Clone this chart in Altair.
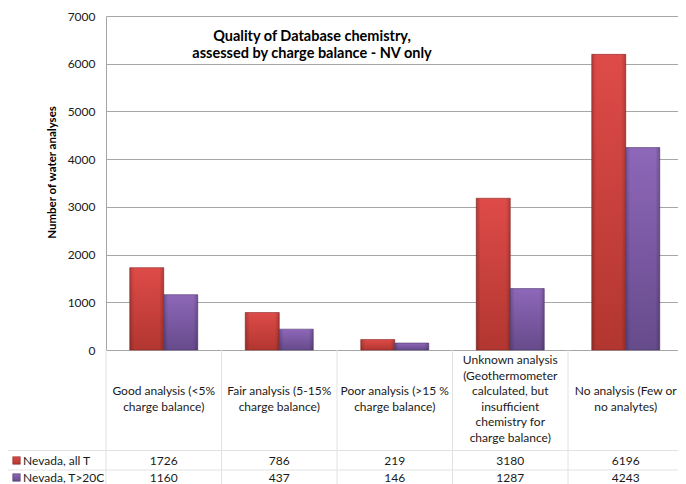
import altair as alt
import pandas as pd

CATEGORIES = [
    "Good analysis (<5%\ncharge balance)",
    "Fair analysis (5-15%\ncharge balance)",
    "Poor analysis (>15 %\ncharge balance)",
    "Unknown analysis\n(Geothermometer\ncalculated, but\ninsufficient\nchemistry for\ncharge balance)",
    "No analysis (Few or\nno analytes)",
]
SERIES = ["Nevada, all T", "Nevada, T>20C"]
ALL_T = [1726, 786, 219, 3180, 6196]
T_GT_20C = [1160, 437, 146, 1287, 4243]
Y_TICKS = [0, 1000, 2000, 3000, 4000, 5000, 6000, 7000]
TITLE = ["Quality of Database chemistry,", "assessed by charge balance - NV only"]
Y_TITLE = "Number of  water analyses"

FONT = "Lato"
W, H = 572, 334            # visible plot area (page is 686 wide)
STEP = 115.5
STEP_RANGE = [0, 5 * STEP]  # category bands continue past the right edge
BAR_PAD = 1 - 68 / STEP
LH = 15.5                  # line height of table header text

rows = []
for c, a, b in zip(CATEGORIES, ALL_T, T_GT_20C):
    rows.append({"category": c, "series": SERIES[0], "value": a})
    rows.append({"category": c, "series": SERIES[1], "value": b})
df = pd.DataFrame(rows)
cat_df = pd.DataFrame({"category": CATEGORIES})


def vgrad(top, bottom):
    return alt.Gradient(
        gradient="linear",
        stops=[alt.GradientStop(color=top, offset=0), alt.GradientStop(color=bottom, offset=1)],
        x1=0, x2=0, y1=0, y2=1,
    )


edge_grad = alt.Gradient(
    gradient="linear",
    stops=[
        alt.GradientStop(color="rgba(0,0,0,0.2)", offset=0),
        alt.GradientStop(color="rgba(0,0,0,0)", offset=0.13),
        alt.GradientStop(color="rgba(0,0,0,0)", offset=0.87),
        alt.GradientStop(color="rgba(0,0,0,0.2)", offset=1),
    ],
    x1=0, x2=1, y1=0, y2=0,
)

RED = ("#de4b48", "#b23630", "#8c2926")
PURPLE = ("#8e67b9", "#664b8b", "#52396f")

x_bar = alt.X(
    "category:N", sort=CATEGORIES,
    scale=alt.Scale(domain=CATEGORIES, range=STEP_RANGE, paddingInner=BAR_PAD, paddingOuter=BAR_PAD / 2),
    axis=None,
)
x_off = alt.XOffset("series:N", scale=alt.Scale(domain=SERIES, paddingInner=0, paddingOuter=0))
y_enc = alt.Y(
    "value:Q",
    scale=alt.Scale(domain=[0, 7000], nice=False),
    axis=alt.Axis(
        values=Y_TICKS, format="d", grid=True, gridColor="#a6a6a6", gridWidth=1,
        domainColor="#a6a6a6", ticks=False,
        labelFont=FONT, labelFontSize=12, labelColor="#1a1a1a", labelPadding=11,
        title=Y_TITLE, titleFont=FONT, titleFontSize=11.5, titleFontWeight="bold",
        titleColor="#000000", titleAngle=270, titleX=-54, titleY=156,
        titleAlign="center", titleBaseline="middle",
    ),
)


def bars(s, cols):
    base = alt.Chart(df).transform_filter(alt.datum.series == s)
    body = base.mark_bar(fill=vgrad(cols[0], cols[1]), stroke=cols[2], strokeWidth=0.6).encode(
        x=x_bar, xOffset=x_off, y=y_enc
    )
    edge = base.mark_bar(fill=edge_grad).encode(x=x_bar, xOffset=x_off, y=y_enc)
    return [body, edge]


title = alt.Chart(pd.DataFrame({"t": [0]})).mark_text(
    text=TITLE, font=FONT, fontSize=14.5, fontWeight="bold", color="#000000",
    align="center", baseline="middle", lineHeight=17,
).encode(x=alt.value(206), y=alt.value(21))

top = alt.layer(*bars(SERIES[0], RED), *bars(SERIES[1], PURPLE), title)

# data table below the plot
tab_scale = alt.Scale(domain=CATEGORIES, range=STEP_RANGE, paddingInner=0, paddingOuter=0)
x_tab = alt.X("category:N", sort=CATEGORIES, scale=tab_scale, axis=None)
x_tab_edge = alt.X("category:N", sort=CATEGORIES, scale=tab_scale, axis=None, bandPosition=0)

LINE = "#e2e2e2"
HEADER_MID = 383
ROW1, ROW2 = 445, 462
vrules = alt.Chart(cat_df).mark_rule(color=LINE, strokeWidth=1).encode(
    x=x_tab_edge, y=alt.value(334), y2=alt.value(476)
)
hrule1 = alt.Chart(cat_df.head(1)).mark_rule(color=LINE, strokeWidth=1).encode(
    x=alt.value(-98), x2=alt.value(W), y=alt.value(434.5)
)
hrule2 = alt.Chart(cat_df.head(1)).mark_rule(color=LINE, strokeWidth=1).encode(
    x=alt.value(-98), x2=alt.value(W), y=alt.value(454)
)

cat_text = alt.Chart(cat_df).transform_calculate(
    ypos=f"{HEADER_MID} - (split(datum.category, '\\n').length - 1) * {LH / 2}"
).mark_text(
    lineBreak="\n", font=FONT, fontSize=12, lineHeight=LH, color="#1a1a1a",
    align="center", baseline="middle",
).encode(x=x_tab, y=alt.Y("ypos:Q", scale=None, axis=None), text="category:N")


def value_row(s, ypos):
    return alt.Chart(df).transform_filter(alt.datum.series == s).mark_text(
        font=FONT, fontSize=12, color="#1a1a1a", align="center", baseline="middle"
    ).encode(x=x_tab, y=alt.value(ypos), text=alt.Text("value:Q", format="d"))


def row_label(s, ypos, cols):
    d = alt.Chart(pd.DataFrame({"series": [s]}))
    lab = d.mark_text(font=FONT, fontSize=12, color="#1a1a1a", align="left", baseline="middle").encode(
        x=alt.value(-83), y=alt.value(ypos), text="series:N"
    )
    sw = d.mark_square(size=56, fill=vgrad(cols[0], cols[1]), stroke=cols[2], strokeWidth=0.6, opacity=1).encode(
        x=alt.value(-89.5), y=alt.value(ypos - 0.5)
    )
    return [sw, lab]


table = alt.layer(
    vrules, hrule1, hrule2, cat_text,
    value_row(SERIES[0], ROW1), value_row(SERIES[1], ROW2),
    *row_label(SERIES[0], ROW1, RED), *row_label(SERIES[1], ROW2, PURPLE),
)

chart = (
    alt.layer(top, table)
    .resolve_scale(x="independent", y="independent")
    .properties(
        width=W, height=H,
        padding={"left": 98, "top": 8, "right": 0, "bottom": 134},
        autosize=alt.AutoSizeParams(type="none"),
        background="white",
    )
    .configure_view(stroke=None)
)

chart.save("out.html", embed_options={"renderer": "svg", "actions": False})
